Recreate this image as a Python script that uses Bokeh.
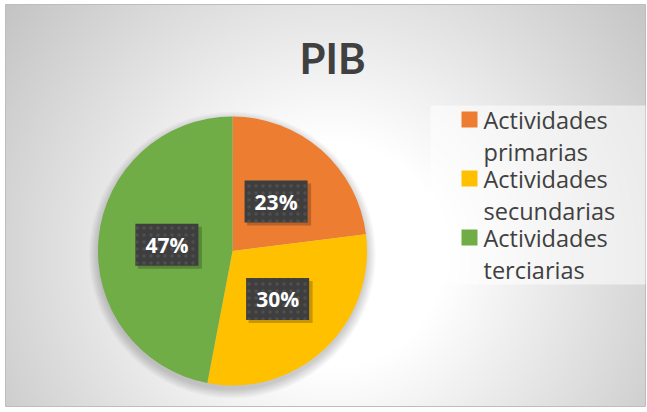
import numpy as np
from bokeh.plotting import figure
from bokeh.models import Range1d, ColumnDataSource
from bokeh.embed import file_html
from bokeh.resources import INLINE
from bokeh.core.properties import value

# ---- data ----
title_text = "PIB"
categories = ["Actividades primarias", "Actividades secundarias", "Actividades terciarias"]
values = [23, 30, 47]
colors = ["#ED7D31", "#FFC000", "#70AD47"]

# ---- layout helpers (screen px -> data units) ----
W, H = 647, 412
OX, OY = 0, 0


def sx(X):
    return X - OX


def sy(Y):
    return H - (Y - OY)


p = figure(width=W, height=H, x_range=Range1d(0, W), y_range=Range1d(0, H),
           output_backend="svg", toolbar_location=None, min_border=0,
           x_axis_type=None, y_axis_type=None)
p.grid.visible = False
p.outline_line_color = None
p.background_fill_color = "white"
p.border_fill_color = "white"

# ---- chart area with radial gradient ----
AL, AT, AR, AB = 5, 4, 645, 406
aw, ah = AR - AL, AB - AT
yy, xx = np.mgrid[0:ah, 0:aw]
Xs = xx + AL
Ys = AB - yy
d = np.hypot(Xs - 330, Ys - 255)
g = np.clip(278 - 0.2 * d, 0, 255).astype(np.uint32)
img = (np.uint32(255) << 24) | (g << 16) | (g << 8) | g
p.image_rgba(image=[img.astype(np.uint32)], x=sx(AL), y=sy(AB), dw=aw, dh=ah)
p.quad(left=sx(AL), right=sx(AR), top=sy(AT), bottom=sy(AB), fill_color=None,
       line_color="#bdbdbd", line_width=1)

# ---- legend background ----
p.quad(left=sx(430), right=sx(AR), top=sy(105), bottom=sy(284),
       fill_color="white", fill_alpha=0.55, line_color=None)

# ---- pie ----
cx, cy, R = sx(232), sy(250.5), 134.5
for k in range(10):
    p.circle(x=cx, y=cy - 4, radius=R + k * 1.0, fill_color="black",
             fill_alpha=0.018, line_color=None)

total = float(sum(values))
fr = np.array(values) / total
cum = np.concatenate([[0.0], np.cumsum(fr)])
start = np.pi / 2 - 2 * np.pi * cum[:-1]
end = np.pi / 2 - 2 * np.pi * cum[1:]
mid = np.pi / 2 - 2 * np.pi * (cum[:-1] + fr / 2)
src = ColumnDataSource(dict(start=start, end=end, color=colors))
p.wedge(x=cx, y=cy, radius=R, start_angle="start", end_angle="end",
        direction="clock", fill_color="color", line_color=None, source=src)

# ---- data labels ----
lx = cx + 0.49 * R * np.cos(mid)
ly = cy + 0.49 * R * np.sin(mid)
lab = ColumnDataSource(dict(x=lx, y=ly, xs=lx + 3, ys=ly - 3,
                            t=[f"{v}%" for v in values]))
p.rect(x="xs", y="ys", width=64, height=42, fill_color="black", fill_alpha=0.22,
       line_color=None, source=lab)
p.rect(x="x", y="y", width=63, height=42, fill_color="#3e3e3e", line_color=None,
       hatch_pattern="dot", hatch_color="#5a5a5a", hatch_alpha=0.6, hatch_scale=7,
       hatch_weight=1.5, source=lab)
p.text(x="x", y="y", text="t", text_color="white", text_align="center",
       text_baseline="middle", text_font=value("Open Sans"),
       text_font_style="bold", text_font_size="21px", source=lab)

# ---- title ----
p.text(x=[sx(332)], y=[sy(57)], text=[title_text], text_color="#404040",
       text_align="center", text_baseline="middle", text_font=value("Lato"),
       text_font_style="bold", text_font_size="42px")

# ---- legend ----
step = 59
n = len(categories)
l1 = [c.split(" ", 1)[0] for c in categories]
l2 = [c.split(" ", 1)[1] if " " in c else "" for c in categories]
idx = np.arange(n)
leg = ColumnDataSource(dict(
    sqx=[sx(469)] * n, sqy=[sy(119 + step * i) for i in idx],
    tx=[sx(483)] * n, y1=[sy(119 + step * i) for i in idx],
    y2=[sy(151 + step * i) for i in idx], l1=l1, l2=l2, color=colors))
p.rect(x="sqx", y="sqy", width=16, height=16, fill_color="color", line_color=None,
       source=leg)
for col in ("y1", "y2"):
    p.text(x="tx", y=col, text="l1" if col == "y1" else "l2", text_color="#404040",
           text_align="left", text_baseline="middle",
           text_font=value("Open Sans"), text_font_size="23.5px", source=leg)

open("out.html", "w").write(file_html(p, INLINE))
